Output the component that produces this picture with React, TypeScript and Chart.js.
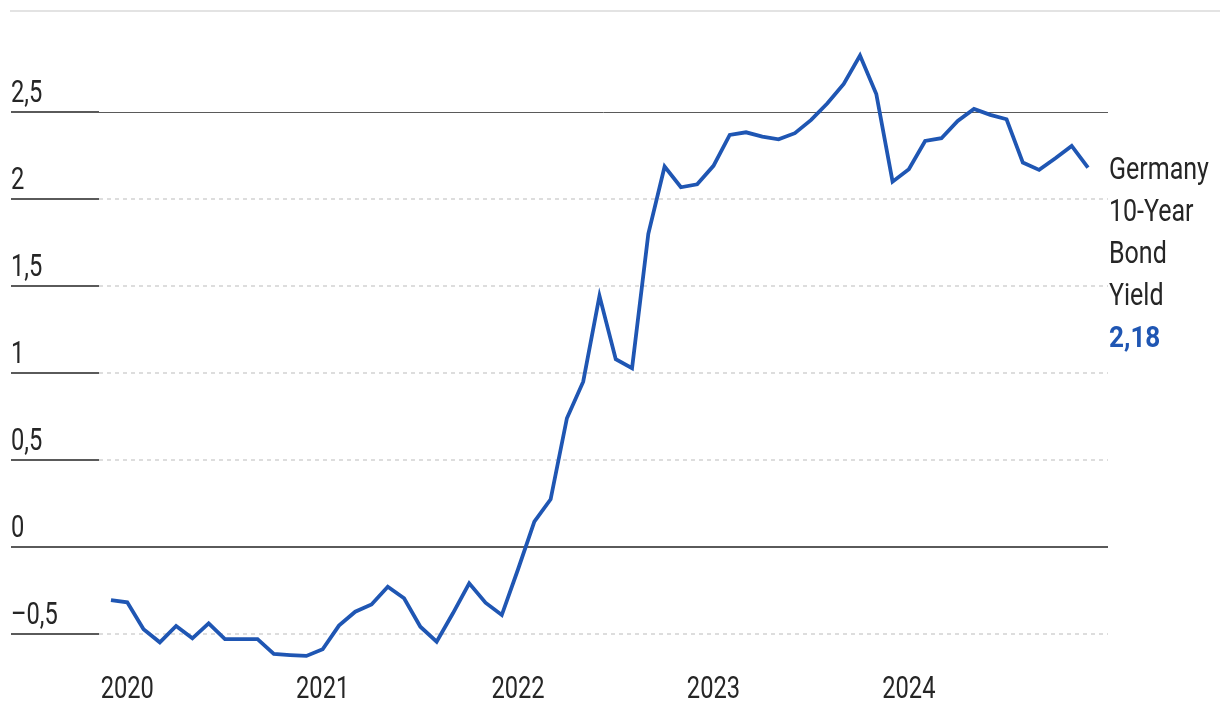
import React, { useEffect, useRef } from "react";
import { Chart, registerables } from "chart.js";

Chart.register(...registerables);

// Monthly Germany 10-year bond yield, Dec 2019 … Dec 2024 (index 0 = Dec 2019)
const yields = [
  -0.305, -0.318, -0.473, -0.548, -0.454, -0.525, -0.439, -0.529, -0.529, -0.529,
  -0.615, -0.621, -0.626, -0.588, -0.452, -0.372, -0.33, -0.228, -0.295, -0.458,
  -0.544, -0.381, -0.209, -0.32, -0.391, -0.128, 0.146, 0.274, 0.74, 0.95,
  1.443, 1.079, 1.027, 1.8, 2.186, 2.067, 2.084, 2.19, 2.368, 2.383,
  2.358, 2.343, 2.378, 2.454, 2.55, 2.661, 2.824, 2.603, 2.099, 2.171,
  2.333, 2.349, 2.448, 2.517, 2.483, 2.458, 2.209, 2.167, 2.234, 2.305,
  2.18,
];
const yearLabels = ["2020", "2021", "2022", "2023", "2024"];
const yearTickIndex = [1, 13, 25, 37, 49];
const yTickValues = [-0.5, 0, 0.5, 1, 1.5, 2, 2.5];
const yTickLabels = ["\u20130,5", "0", "0,5", "1", "1,5", "2", "2,5"];
const solidGridValues = [0, 2.5];
const seriesNameLines = ["Germany", "10-Year", "Bond", "Yield"];
const lastValueLabel = "2,18";

const FONT = "Roboto, 'Noto Sans', sans-serif";
const LINE_COLOR = "#1f56b3";
const TEXT_COLOR = "#262626";

function drawScaled(ctx: CanvasRenderingContext2D, text: string, x: number, y: number, sx: number, align: CanvasTextAlign) {
  ctx.save();
  ctx.translate(x, y);
  ctx.scale(sx, 1);
  ctx.textAlign = align;
  ctx.textBaseline = "alphabetic";
  ctx.fillText(text, 0, 0);
  ctx.restore();
}

const decorPlugin = {
  id: "decor",
  beforeDatasetsDraw(chart: any) {
    const { ctx, chartArea, scales } = chart;
    const y = scales.y;
    const x = scales.x;
    ctx.save();
    // top rule
    ctx.strokeStyle = "#e3e3e3";
    ctx.lineWidth = 2;
    ctx.beginPath();
    ctx.moveTo(chartArea.left - 1, chartArea.top);
    ctx.lineTo(chart.width, chartArea.top);
    ctx.stroke();
    const tickEnd = chartArea.left + 88;
    ctx.fillStyle = TEXT_COLOR;
    ctx.font = `32px ${FONT}`;
    yTickValues.forEach((v, k) => {
      const py = Math.round(y.getPixelForValue(v));
      const solid = solidGridValues.includes(v);
      const lw = v === 0 ? 2 : solid ? 1 : 2;
      const off = lw === 1 ? 0.5 : 0;
      ctx.setLineDash(solid ? [] : [4, 4]);
      ctx.strokeStyle = solid ? "#5a5a5a" : "#dddddd";
      ctx.lineWidth = lw;
      ctx.beginPath();
      ctx.moveTo(tickEnd, py + off);
      ctx.lineTo(chartArea.right, py + off);
      ctx.stroke();
      ctx.setLineDash([]);
      ctx.strokeStyle = "#5a5a5a";
      ctx.lineWidth = 2;
      ctx.beginPath();
      ctx.moveTo(chartArea.left, py);
      ctx.lineTo(tickEnd, py);
      ctx.stroke();
      drawScaled(ctx, yTickLabels[k], chartArea.left, py - 10, 0.74, "left");
    });
    // x-axis year labels at the scale's tick positions
    x.ticks.forEach((t: any) => {
      const k = yearTickIndex.indexOf(t.value);
      if (k < 0) return;
      const px = x.getPixelForValue(t.value);
      drawScaled(ctx, yearLabels[k], px, 698, 0.74, "center");
    });
    ctx.restore();
  },
  afterDatasetsDraw(chart: any) {
    const { ctx, chartArea } = chart;
    ctx.save();
    const x0 = chartArea.right + 1;
    let by = 178.5;
    ctx.fillStyle = TEXT_COLOR;
    ctx.font = `30.5px ${FONT}`;
    seriesNameLines.forEach((t) => {
      drawScaled(ctx, t, x0, by, 0.82, "left");
      by += 42;
    });
    ctx.fillStyle = LINE_COLOR;
    ctx.font = `bold 29px ${FONT}`;
    drawScaled(ctx, lastValueLabel, x0, by, 0.9, "left");
    ctx.restore();
  },
};

export default function App() {
  const canvasRef = useRef<HTMLCanvasElement | null>(null);

  useEffect(() => {
    document.body.style.margin = "0";
    const canvas = canvasRef.current;
    if (!canvas) return;
    const points = yields.map((v, i) => ({ x: i, y: v }));
    const chart = new Chart(canvas, {
      type: "line",
      data: {
        datasets: [
          {
            label: seriesNameLines.join(" "),
            data: points,
            borderColor: LINE_COLOR,
            borderWidth: 3.8,
            pointRadius: 0,
            tension: 0,
            fill: false,
            borderJoinStyle: "miter",
          },
        ],
      },
      options: {
        animation: false,
        responsive: false,
        devicePixelRatio: 1,
        layout: { padding: { left: 11, right: 112, top: 11, bottom: 49.2 } },
        plugins: { legend: { display: false }, tooltip: { enabled: false } },
        scales: {
          x: {
            type: "linear",
            display: false,
            min: -6.14,
            max: 61.23,
            afterBuildTicks: (scale: any) => {
              scale.ticks = yearTickIndex.map((v) => ({ value: v }));
            },
          },
          y: {
            type: "linear",
            display: false,
            min: -0.7,
            max: 3.08,
          },
        },
      },
      plugins: [decorPlugin],
    });
    return () => chart.destroy();
  }, []);

  return (
    <div style={{ width: 1220, height: 718, background: "#fff" }}>
      <canvas ref={canvasRef} width={1220} height={718} style={{ display: "block" }} />
    </div>
  );
}
